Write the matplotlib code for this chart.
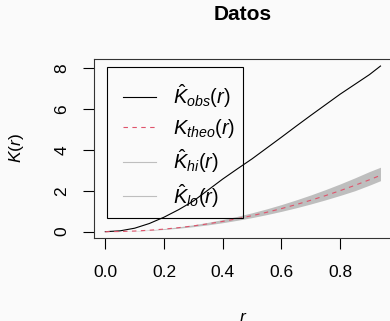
import matplotlib
matplotlib.use('Agg')
import matplotlib.pyplot as plt
from matplotlib.lines import Line2D
from matplotlib.patches import Rectangle

# ---- data ----
r = [0.0, 0.05, 0.10, 0.15, 0.20, 0.25, 0.30, 0.35, 0.40, 0.45, 0.50,
     0.55, 0.60, 0.65, 0.70, 0.75, 0.80, 0.85, 0.90, 0.9375]
k_obs = [0.0, 0.04, 0.17, 0.40, 0.71, 1.08, 1.50, 2.04, 2.58, 3.08, 3.57,
         4.10, 4.63, 5.17, 5.70, 6.22, 6.74, 7.22, 7.70, 8.12]
k_theo = [0.0, 0.0079, 0.0314, 0.0707, 0.1257, 0.1963, 0.2827, 0.3848, 0.5027,
          0.6362, 0.7854, 0.9503, 1.1310, 1.3273, 1.5394, 1.7671, 2.0106,
          2.2698, 2.5447, 2.7612]
k_hi = [0.0, 0.010, 0.040, 0.086, 0.152, 0.236, 0.338, 0.458, 0.596, 0.752,
        0.926, 1.118, 1.328, 1.556, 1.800, 2.062, 2.340, 2.636, 2.948, 3.16]
k_lo = [0.0, 0.006, 0.026, 0.060, 0.108, 0.170, 0.245, 0.335, 0.440, 0.558,
        0.690, 0.836, 0.996, 1.170, 1.358, 1.560, 1.776, 2.006, 2.280, 2.50]
x_ticks = [0.0, 0.2, 0.4, 0.6, 0.8]
x_ticklabels = ['0.0', '0.2', '0.4', '0.6', '0.8']
y_ticks = [0, 2, 4, 6, 8]
y_ticklabels = ['0', '2', '4', '6', '8']
title = 'Datos'
labels = [r'$\hat{K}_{obs}(r)$', r'$K_{theo}(r)$', r'$\hat{K}_{hi}(r)$', r'$\hat{K}_{lo}(r)$']

# ---- style ----
plt.rcParams['font.family'] = ['Liberation Sans', 'DejaVu Sans']
plt.rcParams['mathtext.fontset'] = 'custom'
plt.rcParams['mathtext.rm'] = 'Liberation Sans'
plt.rcParams['mathtext.it'] = 'Liberation Sans:italic'
plt.rcParams['mathtext.bf'] = 'Liberation Sans:bold'

BG = '#FAFAFA'
RED = '#DF536B'
GREY = '#BEBEBE'
FS = 12.5
LFS = 14.5

fig = plt.figure(figsize=(3.9, 3.21), dpi=100, facecolor=BG)
W, H = 390.0, 321.0
left, right, bottom, top = 94.3, 391.5, 238.3, 59.4
ax = fig.add_axes([left / W, 1 - bottom / H, (right - left) / W, (bottom - top) / H])
ax.set_facecolor(BG)

ax.fill_between(r, k_lo, k_hi, color=GREY, linewidth=0)
ax.plot(r, k_obs, color='black', lw=0.8)
ax.plot(r, k_theo, color=RED, lw=0.8, dashes=(4, 4))

ax.set_xlim(-0.0375, 0.975)
ax.set_ylim(-0.325, 8.445)

ax.set_xticks(x_ticks)
ax.set_xticklabels(x_ticklabels)
ax.set_yticks(y_ticks)
ax.set_yticklabels(y_ticklabels, rotation=90, va='center')
ax.tick_params(axis='both', direction='out', length=8, width=0.8, labelsize=FS, colors='black')
ax.tick_params(axis='x', pad=11)
ax.tick_params(axis='y', pad=10)
for s in ax.spines.values():
    s.set_linewidth(0.8)
    s.set_color('#333333')

fig.text(243 / W, 1 - 15 / H, title, ha='center', va='center', fontsize=15, fontweight='bold')
fig.text(16 / W, 1 - 148 / H, r'$K(r)$', ha='center', va='center', rotation=90, fontsize=FS)
fig.text(243 / W, 1 - 318 / H, r'$r$', ha='center', va='center', fontsize=FS)

handles = [Line2D([], [], color='black', lw=0.8),
           Line2D([], [], color=RED, lw=0.8, dashes=(4, 4)),
           Line2D([], [], color=GREY, lw=0.8),
           Line2D([], [], color=GREY, lw=0.8)]
lx0, ly0, lx1, ly1 = 106.7, 66.7, 243.3, 218.3
leg = ax.legend(handles, labels, loc='upper left',
                bbox_to_anchor=((lx0 - left) / (right - left), 1 - (ly0 - top) / (bottom - top)),
                borderaxespad=0, fontsize=LFS, handlelength=1.63, handletextpad=0.88,
                labelspacing=0.35, borderpad=0.8, frameon=False)

# legend frame (R-style box with exact extent)
fig.patches.append(Rectangle((lx0 / W, 1 - ly1 / H), (lx1 - lx0) / W, (ly1 - ly0) / H,
                             transform=fig.transFigure, fill=False,
                             edgecolor='black', linewidth=0.8, zorder=5))

fig.savefig('out.png', dpi=100, facecolor=BG)
